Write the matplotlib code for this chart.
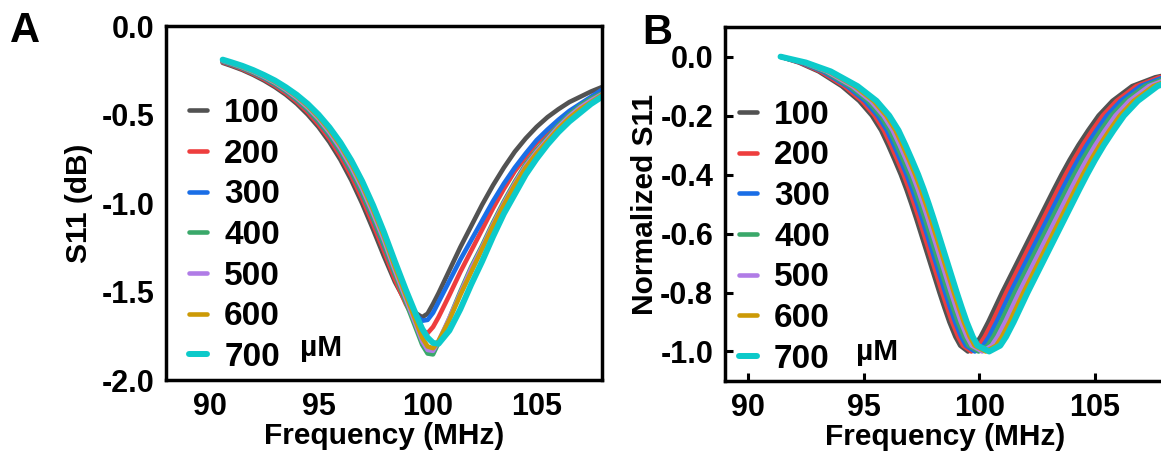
import matplotlib
matplotlib.use("Agg")
import matplotlib.pyplot as plt

# ------------------------ Data ------------------------
CONCS = ["100", "200", "300", "400", "500", "600", "700"]
COLORS = ["#525252", "#ee3e3e", "#1a6ee6", "#3aa86a", "#b07ce6", "#cc9a06", "#0ccaca"]

# Panel A: S11 (dB) read on a shared frequency grid (MHz)
A_FREQ = [90.6, 91.0, 91.5, 92.0, 92.5, 93.0, 93.5, 94.0, 94.5, 95.0, 95.5, 96.0, 96.5, 97.0, 97.5, 98.0,
          98.5, 99.0, 99.5, 99.75, 100.0, 100.25, 100.5,
          101.0, 101.5, 102.0, 102.5, 103.0, 103.5, 104.0, 104.5, 105.0, 105.5, 106.0, 106.5, 107.0, 107.5, 108.0]
A_100 = [-0.208, -0.225, -0.248, -0.276, -0.308, -0.345, -0.388, -0.439, -0.50, -0.571, -0.656, -0.755, -0.871, -1.003, -1.149, -1.301,
         -1.445, -1.56, -1.625, -1.645, -1.625, -1.57, -1.51,
         -1.38, -1.25, -1.13, -1.01, -0.90, -0.80, -0.71, -0.635, -0.57, -0.515, -0.47, -0.43, -0.40, -0.37, -0.345]
A_200 = [-0.204, -0.220, -0.243, -0.270, -0.301, -0.337, -0.379, -0.428, -0.486, -0.556, -0.637, -0.734, -0.846, -0.975, -1.119, -1.271,
         -1.43, -1.57, -1.68, -1.72, -1.735, -1.70, -1.645,
         -1.52, -1.39, -1.27, -1.15, -1.03, -0.92, -0.82, -0.74, -0.66, -0.60, -0.54, -0.49, -0.45, -0.41, -0.375]
A_300 = [-0.200, -0.216, -0.238, -0.264, -0.294, -0.329, -0.369, -0.417, -0.473, -0.540, -0.619, -0.712, -0.821, -0.947, -1.089, -1.241,
         -1.40, -1.53, -1.635, -1.665, -1.66, -1.62, -1.56,
         -1.44, -1.32, -1.21, -1.10, -0.99, -0.89, -0.80, -0.72, -0.645, -0.585, -0.53, -0.48, -0.44, -0.40, -0.36]
A_400 = [-0.199, -0.215, -0.237, -0.263, -0.292, -0.327, -0.367, -0.415, -0.471, -0.537, -0.615, -0.708, -0.816, -0.942, -1.083, -1.234,
         -1.40, -1.56, -1.72, -1.80, -1.85, -1.855, -1.79,
         -1.65, -1.50, -1.36, -1.24, -1.11, -0.99, -0.88, -0.78, -0.70, -0.63, -0.56, -0.50, -0.45, -0.41, -0.38]
A_500 = [-0.196, -0.211, -0.233, -0.258, -0.287, -0.320, -0.360, -0.406, -0.460, -0.524, -0.601, -0.691, -0.797, -0.919, -1.059, -1.210,
         -1.38, -1.54, -1.70, -1.78, -1.83, -1.835, -1.78,
         -1.65, -1.51, -1.37, -1.25, -1.12, -1.00, -0.89, -0.79, -0.71, -0.64, -0.57, -0.51, -0.46, -0.42, -0.385]
A_600 = [-0.193, -0.208, -0.230, -0.254, -0.282, -0.315, -0.353, -0.398, -0.451, -0.514, -0.588, -0.675, -0.779, -0.900, -1.038, -1.189,
         -1.36, -1.52, -1.68, -1.76, -1.81, -1.82, -1.78,
         -1.66, -1.52, -1.39, -1.26, -1.13, -1.01, -0.90, -0.80, -0.72, -0.65, -0.58, -0.52, -0.47, -0.43, -0.39]
A_700 = [-0.190, -0.205, -0.225, -0.249, -0.277, -0.308, -0.346, -0.389, -0.440, -0.501, -0.573, -0.658, -0.759, -0.877, -1.013, -1.165,
         -1.33, -1.49, -1.64, -1.71, -1.76, -1.79, -1.795,
         -1.72, -1.60, -1.46, -1.33, -1.19, -1.06, -0.95, -0.84, -0.75, -0.67, -0.60, -0.54, -0.49, -0.44, -0.40]

# Panel B: normalized S11 levels, and the frequency (MHz) where each curve crosses them
B_LEVEL = [0, -0.02, -0.05, -0.1, -0.15, -0.2, -0.25, -0.3, -0.35, -0.4, -0.45, -0.5, -0.55, -0.6, -0.65, -0.7,
           -0.75, -0.8, -0.85, -0.9, -0.95, -0.98,
           -1.0,
           -0.98, -0.95, -0.9, -0.85, -0.8, -0.75, -0.7, -0.65, -0.6, -0.55, -0.5, -0.45, -0.4, -0.35, -0.3,
           -0.25, -0.2, -0.15, -0.1, -0.07, -0.05]
B_100 = [91.4, 92.2, 93.05, 94.05, 94.8, 95.35, 95.75, 96.05, 96.33, 96.6, 96.84, 97.06, 97.27, 97.47, 97.67, 97.87,
         98.07, 98.27, 98.48, 98.7, 98.96, 99.17,
         99.5,
         99.8, 100.05, 100.38, 100.68, 100.98, 101.3, 101.62, 101.94, 102.26, 102.58, 102.9, 103.22, 103.55, 103.9, 104.28,
         104.7, 105.15, 105.75, 106.6, 107.6, 108.8]
B_200 = [91.4, 92.25, 93.13, 94.16, 94.92, 95.47, 95.87, 96.17, 96.45, 96.72, 96.96, 97.18, 97.39, 97.59, 97.79, 97.99,
         98.19, 98.39, 98.6, 98.82, 99.08, 99.29,
         99.65,
         99.98, 100.23, 100.56, 100.86, 101.16, 101.48, 101.8, 102.12, 102.44, 102.76, 103.08, 103.4, 103.73, 104.08, 104.46,
         104.88, 105.33, 105.93, 106.78, 107.78, 108.98]
B_300 = [91.4, 92.3, 93.23, 94.28, 95.05, 95.6, 96.0, 96.3, 96.58, 96.85, 97.09, 97.31, 97.52, 97.72, 97.92, 98.12,
         98.32, 98.52, 98.73, 98.95, 99.21, 99.42,
         99.8,
         100.16, 100.41, 100.74, 101.04, 101.34, 101.66, 101.98, 102.3, 102.62, 102.94, 103.26, 103.58, 103.91, 104.26, 104.64,
         105.06, 105.51, 106.11, 106.96, 107.96, 109.16]
B_400 = [91.4, 92.35, 93.31, 94.38, 95.17, 95.72, 96.12, 96.42, 96.7, 96.97, 97.21, 97.43, 97.64, 97.84, 98.04, 98.24,
         98.44, 98.64, 98.85, 99.07, 99.33, 99.54,
         99.96,
         100.35, 100.6, 100.93, 101.23, 101.53, 101.85, 102.17, 102.49, 102.81, 103.13, 103.45, 103.77, 104.1, 104.45, 104.83,
         105.25, 105.7, 106.3, 107.15, 108.15, 109.35]
B_500 = [91.4, 92.4, 93.4, 94.5, 95.3, 95.85, 96.25, 96.55, 96.83, 97.1, 97.34, 97.56, 97.77, 97.97, 98.17, 98.37,
         98.57, 98.77, 98.98, 99.2, 99.46, 99.67,
         100.12,
         100.53, 100.78, 101.11, 101.41, 101.71, 102.03, 102.35, 102.67, 102.99, 103.31, 103.63, 103.95, 104.28, 104.63, 105.01,
         105.43, 105.88, 106.48, 107.33, 108.33, 109.53]
B_600 = [91.4, 92.45, 93.48, 94.61, 95.42, 95.97, 96.37, 96.67, 96.95, 97.22, 97.46, 97.68, 97.89, 98.09, 98.29, 98.49,
         98.69, 98.89, 99.1, 99.32, 99.58, 99.79,
         100.27,
         100.72, 100.97, 101.3, 101.6, 101.9, 102.22, 102.54, 102.86, 103.18, 103.5, 103.82, 104.14, 104.47, 104.82, 105.2,
         105.62, 106.07, 106.67, 107.52, 108.52, 109.72]
B_700 = [91.4, 92.5, 93.57, 94.73, 95.55, 96.1, 96.5, 96.8, 97.08, 97.35, 97.59, 97.81, 98.02, 98.22, 98.42, 98.62,
         98.82, 99.02, 99.23, 99.45, 99.71, 99.92,
         100.42,
         100.9, 101.15, 101.48, 101.78, 102.08, 102.4, 102.72, 103.04, 103.36, 103.68, 104.0, 104.32, 104.65, 105.0, 105.38,
         105.8, 106.25, 106.85, 107.7, 108.7, 109.9]

A_SERIES = [A_100, A_200, A_300, A_400, A_500, A_600, A_700]
B_SERIES = [B_100, B_200, B_300, B_400, B_500, B_600, B_700]

X_TICKS = [90, 95, 100, 105]
A_YTICKS = [0.0, -0.5, -1.0, -1.5, -2.0]
B_YTICKS = [0.0, -0.2, -0.4, -0.6, -0.8, -1.0]

# ------------------------ Style ------------------------
plt.rcParams['font.family'] = ['Liberation Sans', 'DejaVu Sans']
plt.rcParams['font.weight'] = 'bold'
plt.rcParams['axes.labelweight'] = 'bold'
plt.rcParams['axes.unicode_minus'] = False

TICK_FS = 22
LABEL_FS = 21.5
LEGEND_FS = 24
LW = 3.3
SPINE_W = 2.5


def line_width(i):
    return 4.3 if i == len(CONCS) - 1 else LW


def style_axes(ax, ticklen):
    for sp in ax.spines.values():
        sp.set_linewidth(SPINE_W)
    ax.tick_params(direction='in', length=ticklen, width=2.2, labelsize=TICK_FS, pad=8.5)
    for lab in ax.get_xticklabels() + ax.get_yticklabels():
        lab.set_fontweight('bold')


def add_legend(ax, lines, x, y):
    leg = ax.legend(lines, CONCS, loc='upper left', bbox_to_anchor=(x, y), frameon=False,
                    fontsize=LEGEND_FS, handlelength=0.55, handletextpad=0.5,
                    labelspacing=0.29, borderpad=0, borderaxespad=0)
    for t in leg.get_texts():
        t.set_fontweight('bold')
    return leg


fig = plt.figure(figsize=(11.61, 4.53), dpi=100)

# ------------------------ Panel A ------------------------
axA = fig.add_axes([0.143, 0.161, 0.3755, 0.7816])
linesA = []
for i, vals in enumerate(A_SERIES):
    ln, = axA.plot(A_FREQ, vals, color=COLORS[i], lw=line_width(i),
                   solid_capstyle='round', solid_joinstyle='round')
    linesA.append(ln)
axA.set_xlim(88, 108)
axA.set_ylim(-2.0, 0.0)
axA.set_xticks(X_TICKS)
axA.set_yticks(A_YTICKS)
axA.set_yticklabels([f"{v:.1f}" for v in A_YTICKS])
style_axes(axA, 0)
axA.set_xlabel("Frequency (MHz)", fontsize=LABEL_FS, fontweight='bold', labelpad=0)
axA.set_ylabel("S11 (dB)", fontsize=LABEL_FS, fontweight='bold', labelpad=6)
add_legend(axA, linesA, 0.053, 0.797)
axA.text(0.307, 0.09, "µM", transform=axA.transAxes, fontsize=LABEL_FS,
         fontweight='bold', va='center', ha='left')
fig.text(0.009, 0.975, "A", fontsize=30, fontweight='bold', va='top', ha='left')

# ------------------------ Panel B ------------------------
axB = fig.add_axes([0.6245, 0.159, 0.3785, 0.781])
linesB = []
for i, freqs in enumerate(B_SERIES):
    ln, = axB.plot(freqs, B_LEVEL, color=COLORS[i], lw=line_width(i),
                   solid_capstyle='round', solid_joinstyle='round')
    linesB.append(ln)
axB.set_xlim(89, 108)
axB.set_ylim(-1.1, 0.1)
axB.set_xticks(X_TICKS)
axB.set_yticks(B_YTICKS)
axB.set_yticklabels([f"{v:.1f}" for v in B_YTICKS])
style_axes(axB, 6)
axB.set_xlabel("Frequency (MHz)", fontsize=LABEL_FS, fontweight='bold', labelpad=0)
axB.set_ylabel("Normalized S11", fontsize=LABEL_FS, fontweight='bold', labelpad=1)
add_legend(axB, linesB, 0.032, 0.795)
axB.text(0.298, 0.082, "µM", transform=axB.transAxes, fontsize=LABEL_FS,
         fontweight='bold', va='center', ha='left')
fig.text(0.553, 0.972, "B", fontsize=30, fontweight='bold', va='top', ha='left')

fig.savefig("out.png", dpi=100)
